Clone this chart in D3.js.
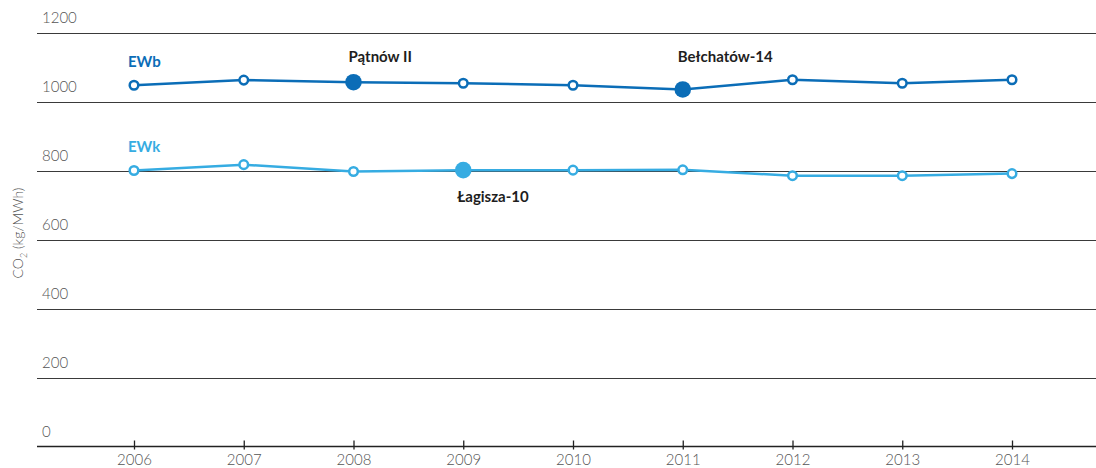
<!DOCTYPE html>
<html>
<head>
<meta charset="utf-8">
<title>CO2 EWb / EWk</title>
<script src="https://d3js.org/d3.v7.min.js"></script>
<style>
  body { margin: 0; background: #fff; }
  svg { display: block; font-family: Lato, "Open Sans", sans-serif; }
  .grid line { stroke: #3a3a3a; stroke-width: 1px; }
  .ylab { font-size: 15px; font-weight: 300; fill: #555; }
  .x.axis path, .x.axis line { stroke: #222; stroke-width: 1.3px; }
  .x.axis text { font-size: 15px; font-weight: 300; fill: #555; font-family: Lato, sans-serif; }
  .ytitle { font-size: 14px; font-weight: 300; fill: #555; }
  .series-line { fill: none; stroke-width: 2.5px; }
  .note { font-size: 15px; font-weight: 700; fill: #1e1e1e; }
  .slabel { font-size: 15px; font-weight: 700; }
</style>
</head>
<body>
<script>
  let width = 1096;
  let height = 468;

  // data
  let years = [2006, 2007, 2008, 2009, 2010, 2011, 2012, 2013, 2014];
  let ewb = [1047, 1062, 1056, 1053, 1047, 1035, 1063, 1053, 1063];
  let ewk = [800, 817, 797, 801, 801, 802, 785, 785, 791];
  let y_ticks = [0, 200, 400, 600, 800, 1000, 1200];

  // highlighted units
  let note_labels = ["Pątnów II", "Bełchatów-14", "Łagisza-10"];
  let note_years = [2008, 2011, 2009];
  let note_series = ["EWb", "EWb", "EWk"];

  let colors = { EWb: "#0b6db7", EWk: "#36ace2" };

  let svg = d3.select("body").append("svg")
    .attr("width", width)
    .attr("height", height);

  let x_scale = d3.scaleLinear()
    .domain([2006, 2014])
    .range([134, 1012]);

  let y_scale = d3.scaleLinear()
    .domain([0, 1200])
    .range([446.5, 32.5]);

  let left = 37;

  // horizontal grid lines (0 is the x axis)
  svg.append("g").attr("class", "grid")
    .selectAll("line")
    .data(y_ticks.filter(d => d > 0))
    .join("line")
    .attr("x1", left)
    .attr("x2", width)
    .attr("y1", d => Math.round(y_scale(d)) + 0.5)
    .attr("y2", d => Math.round(y_scale(d)) + 0.5);

  svg.append("g")
    .selectAll("text")
    .data(y_ticks)
    .join("text")
    .attr("class", "ylab")
    .attr("x", 42)
    .attr("y", d => y_scale(d) - 9.5)
    .text(d => d);

  // x axis
  let x_axis = d3.axisBottom(x_scale)
    .tickValues(years)
    .tickFormat(d3.format("d"))
    .tickSize(3)
    .tickPadding(5);

  let xg = svg.append("g")
    .attr("class", "x axis")
    .attr("transform", "translate(0," + y_scale(0) + ")")
    .call(x_axis);
  xg.select(".domain").attr("d", "M" + left + ",0H" + width);
  xg.selectAll(".tick line").attr("y1", -6).attr("y2", 3);

  // y axis title
  let title = svg.append("text")
    .attr("class", "ytitle")
    .attr("transform", "translate(23,233) rotate(-90)")
    .attr("text-anchor", "middle");
  title.append("tspan").text("CO");
  title.append("tspan").text("2").attr("font-size", "9px").attr("dy", 4);
  title.append("tspan").text(" (kg/MWh)").attr("dy", -4);

  // series
  let series = [
    { name: "EWb", values: ewb },
    { name: "EWk", values: ewk }
  ];

  let line = d3.line()
    .x((d, i) => x_scale(years[i]))
    .y(d => y_scale(d));

  series.forEach(s => {
    let c = colors[s.name];
    svg.append("path")
      .attr("class", "series-line")
      .attr("d", line(s.values))
      .attr("stroke", c);

    let pts = years.map((yr, i) => ({ year: yr, value: s.values[i] }));
    let big = note_years.filter((yr, k) => note_series[k] === s.name);

    svg.append("g")
      .selectAll("circle")
      .data(pts)
      .join("circle")
      .attr("cx", d => x_scale(d.year))
      .attr("cy", d => y_scale(d.value))
      .attr("r", d => big.includes(d.year) ? 8.3 : 4.3)
      .attr("fill", d => big.includes(d.year) ? c : "#fff")
      .attr("stroke", c)
      .attr("stroke-width", d => big.includes(d.year) ? 0 : 2.5);

    svg.append("text")
      .attr("class", "slabel")
      .attr("x", x_scale(years[0]) - 6)
      .attr("y", y_scale(s.values[0]) - 18.5)
      .attr("fill", c)
      .text(s.name);
  });

  // annotations
  let top_base = y_scale(d3.max(ewb)) - 18;
  let low_base = y_scale(800) + 31;
  svg.append("g")
    .selectAll("text")
    .data(note_labels)
    .join("text")
    .attr("class", "note")
    .attr("x", (d, k) => x_scale(note_years[k]) + (note_series[k] === "EWb" ? -5 : -6))
    .attr("y", (d, k) => note_series[k] === "EWb" ? top_base : low_base)
    .text(d => d);
</script>
</body>
</html>
